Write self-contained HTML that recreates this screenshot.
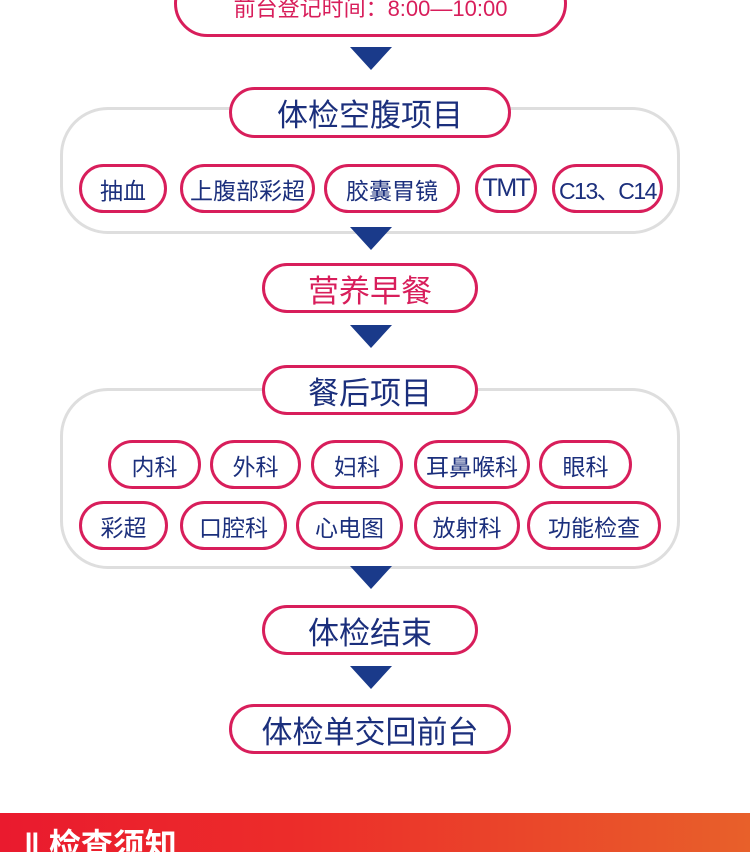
<!DOCTYPE html>
<html><head><meta charset="utf-8"><style>
*{margin:0;padding:0;box-sizing:border-box}
body{width:750px;height:852px;position:relative;background:#fff;overflow:hidden;font-family:"Liberation Sans","Noto Sans CJK SC",sans-serif}
.b{position:absolute;border:3px solid #d81e5b;border-radius:999px;background:#fff;display:flex;align-items:center;justify-content:center;color:#1b2f7c;white-space:nowrap}
.s{font-size:23px}
.l{font-size:31px}
.t{letter-spacing:-1.5px}
.g{position:absolute;border:3px solid #dedede;border-radius:48px;background:#fff}
.a{position:absolute;width:0;height:0;border-left:21px solid transparent;border-right:21px solid transparent;border-top:23px solid #1a3a8a;left:350px}
</style></head><body>
<div class="b" style="left:174px;top:-30px;width:393px;height:67px;align-items:flex-end;padding-bottom:11px;color:#d81e5b;font-size:22px">前台登记时间：8:00—10:00</div>
<div class="a" style="top:47px"></div>
<div class="g" style="left:60px;top:107px;width:620px;height:127px"></div>
<div class="b l" style="left:229px;top:87px;width:282px;height:51px">体检空腹项目</div>
<div class="b s" style="left:79px;top:164px;width:88px;height:49px">抽血</div>
<div class="b s" style="left:180px;top:164px;width:135px;height:49px">上腹部彩超</div>
<div class="b s" style="left:324px;top:164px;width:136px;height:49px">胶囊胃镜</div>
<div class="b s t" style="left:475px;top:164px;width:62px;height:49px;font-size:25px">TMT</div>
<div class="b s t" style="left:552px;top:164px;width:111px;height:49px">C13、C14</div>
<div class="a" style="top:227px"></div>
<div class="b l" style="left:262px;top:263px;width:216px;height:50px;color:#d81e5b">营养早餐</div>
<div class="a" style="top:325px"></div>
<div class="g" style="left:60px;top:388px;width:620px;height:181px"></div>
<div class="b l" style="left:262px;top:365px;width:216px;height:50px">餐后项目</div>
<div class="b s" style="left:108px;top:440px;width:93px;height:49px">内科</div>
<div class="b s" style="left:210px;top:440px;width:91px;height:49px">外科</div>
<div class="b s" style="left:311px;top:440px;width:92px;height:49px">妇科</div>
<div class="b s" style="left:414px;top:440px;width:116px;height:49px">耳鼻喉科</div>
<div class="b s" style="left:539px;top:440px;width:93px;height:49px">眼科</div>
<div class="b s" style="left:79px;top:501px;width:89px;height:49px">彩超</div>
<div class="b s" style="left:180px;top:501px;width:107px;height:49px">口腔科</div>
<div class="b s" style="left:296px;top:501px;width:107px;height:49px">心电图</div>
<div class="b s" style="left:414px;top:501px;width:106px;height:49px">放射科</div>
<div class="b s" style="left:527px;top:501px;width:134px;height:49px">功能检查</div>
<div class="a" style="top:566px"></div>
<div class="b l" style="left:262px;top:605px;width:216px;height:50px">体检结束</div>
<div class="a" style="top:666px"></div>
<div class="b l" style="left:229px;top:704px;width:282px;height:50px">体检单交回前台</div>
<div style="position:absolute;left:0;top:813px;width:750px;height:39px;background:linear-gradient(90deg,#ea1a2e,#ec2d2a 40%,#e8602a)"></div>
<div style="position:absolute;left:24px;top:820px;color:#fff;font-size:32px;font-weight:bold;white-space:nowrap">‖ 检查须知</div>
</body></html>
